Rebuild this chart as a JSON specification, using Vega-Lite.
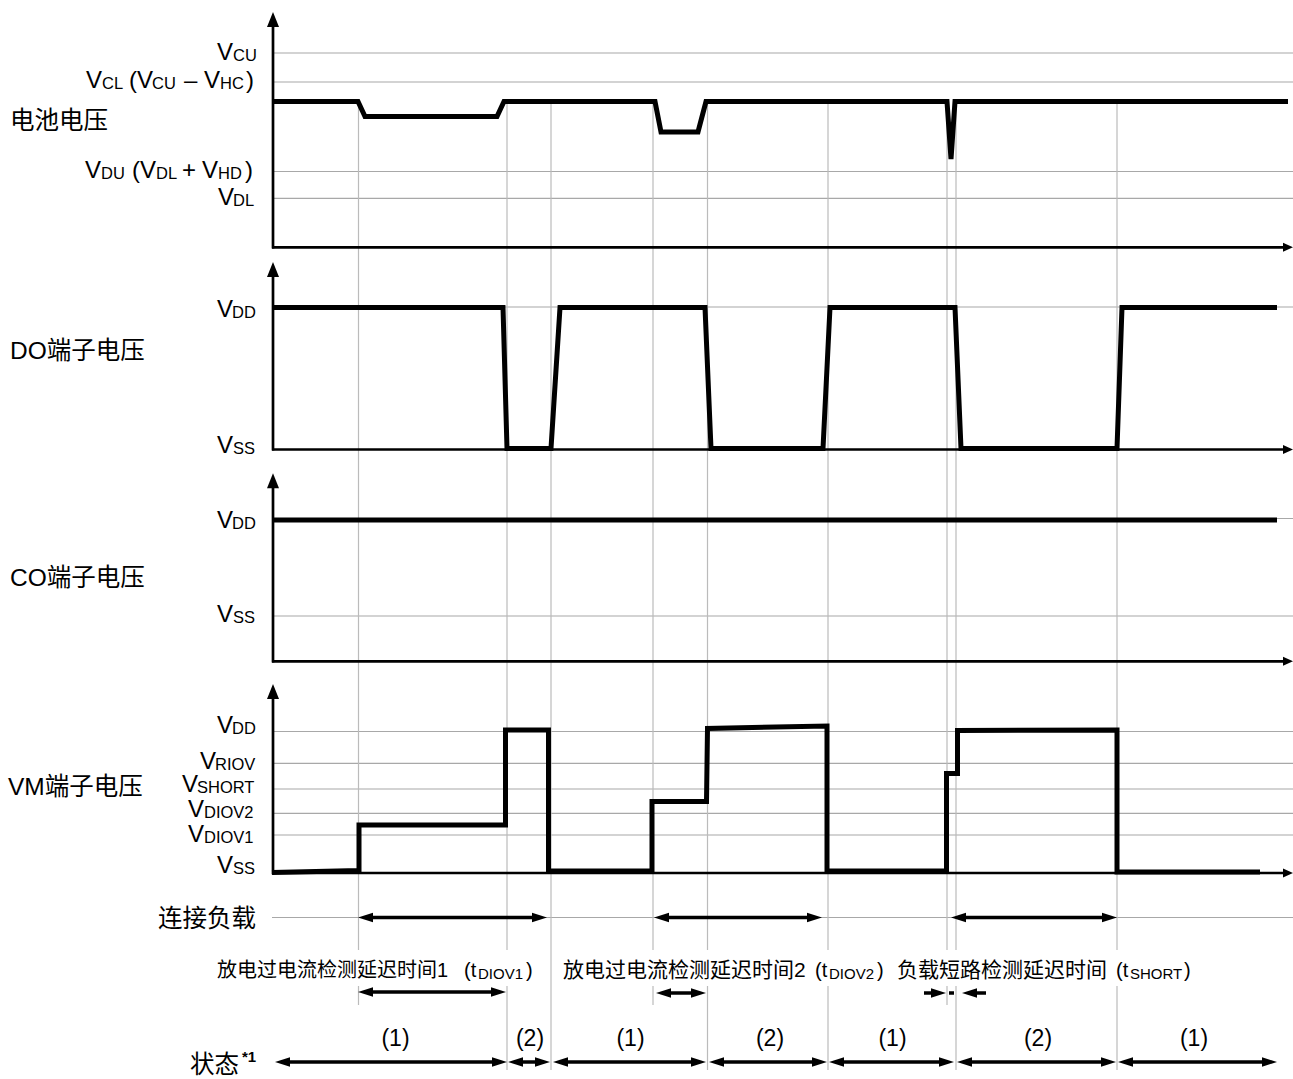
{
  "$schema": "https://vega.github.io/schema/vega-lite/v6.json",
  "width": 1293,
  "height": 1079,
  "autosize": {"type": "none"},
  "padding": 0,
  "background": "white",
  "config": {"view": {"stroke": null}},
  "datasets": {
    "segments": [
      {"k": "g", "x": 272, "y": 53, "x2": 1293, "y2": 53},
      {"k": "g", "x": 272, "y": 82, "x2": 1293, "y2": 82},
      {"k": "g", "x": 272, "y": 171.5, "x2": 1293, "y2": 171.5},
      {"k": "g", "x": 272, "y": 198.3, "x2": 1293, "y2": 198.3},
      {"k": "g", "x": 272, "y": 307, "x2": 1293, "y2": 307},
      {"k": "g", "x": 272, "y": 518.5, "x2": 1293, "y2": 518.5},
      {"k": "g", "x": 272, "y": 616, "x2": 1293, "y2": 616},
      {"k": "g", "x": 272, "y": 731.5, "x2": 1293, "y2": 731.5},
      {"k": "g", "x": 272, "y": 763.3, "x2": 1293, "y2": 763.3},
      {"k": "g", "x": 272, "y": 789, "x2": 1293, "y2": 789},
      {"k": "g", "x": 272, "y": 813.3, "x2": 1293, "y2": 813.3},
      {"k": "g", "x": 272, "y": 835, "x2": 1293, "y2": 835},
      {"k": "g", "x": 272, "y": 917.5, "x2": 1293, "y2": 917.5},
      {"k": "v", "x": 358.5, "y": 100, "x2": 358.5, "y2": 950},
      {"k": "v", "x": 358.5, "y": 986, "x2": 358.5, "y2": 1005},
      {"k": "v", "x": 507, "y": 100, "x2": 507, "y2": 950},
      {"k": "v", "x": 507, "y": 986, "x2": 507, "y2": 1070},
      {"k": "v", "x": 551, "y": 100, "x2": 551, "y2": 1070},
      {"k": "v", "x": 653, "y": 100, "x2": 653, "y2": 950},
      {"k": "v", "x": 653, "y": 986, "x2": 653, "y2": 1005},
      {"k": "v", "x": 707.5, "y": 100, "x2": 707.5, "y2": 950},
      {"k": "v", "x": 707.5, "y": 986, "x2": 707.5, "y2": 1070},
      {"k": "v", "x": 828, "y": 100, "x2": 828, "y2": 950},
      {"k": "v", "x": 828, "y": 986, "x2": 828, "y2": 1070},
      {"k": "v", "x": 947, "y": 100, "x2": 947, "y2": 950},
      {"k": "v", "x": 947, "y": 986, "x2": 947, "y2": 1005},
      {"k": "v", "x": 956, "y": 100, "x2": 956, "y2": 950},
      {"k": "v", "x": 956, "y": 986, "x2": 956, "y2": 1070},
      {"k": "v", "x": 1117, "y": 100, "x2": 1117, "y2": 950},
      {"k": "v", "x": 1117, "y": 986, "x2": 1117, "y2": 1070},
      {"k": "a", "x": 273, "y": 248.5, "x2": 273, "y2": 22},
      {"k": "a", "x": 272, "y": 247.3, "x2": 1286, "y2": 247.3},
      {"k": "a", "x": 273, "y": 450.5, "x2": 273, "y2": 272},
      {"k": "a", "x": 272, "y": 449.5, "x2": 1286, "y2": 449.5},
      {"k": "a", "x": 273, "y": 662.5, "x2": 273, "y2": 483},
      {"k": "a", "x": 272, "y": 661.3, "x2": 1286, "y2": 661.3},
      {"k": "a", "x": 273, "y": 874.3, "x2": 273, "y2": 694},
      {"k": "a", "x": 272, "y": 873, "x2": 1286, "y2": 873},
      {"k": "s", "x": 366, "y": 917.5, "x2": 539, "y2": 917.5},
      {"k": "s", "x": 662, "y": 917.5, "x2": 814, "y2": 917.5},
      {"k": "s", "x": 959, "y": 917.5, "x2": 1109, "y2": 917.5},
      {"k": "s", "x": 366, "y": 992, "x2": 498, "y2": 992},
      {"k": "s", "x": 664, "y": 993, "x2": 698, "y2": 993},
      {"k": "s", "x": 924, "y": 993, "x2": 938, "y2": 993},
      {"k": "s", "x": 949, "y": 993, "x2": 954, "y2": 993},
      {"k": "s", "x": 970, "y": 993, "x2": 986, "y2": 993},
      {"k": "s", "x": 283, "y": 1062, "x2": 499, "y2": 1062},
      {"k": "s", "x": 516, "y": 1062, "x2": 542, "y2": 1062},
      {"k": "s", "x": 561, "y": 1062, "x2": 698, "y2": 1062},
      {"k": "s", "x": 717, "y": 1062, "x2": 819, "y2": 1062},
      {"k": "s", "x": 837, "y": 1062, "x2": 946, "y2": 1062},
      {"k": "s", "x": 965, "y": 1062, "x2": 1108, "y2": 1062},
      {"k": "s", "x": 1126, "y": 1062, "x2": 1269, "y2": 1062}
    ],
    "traces": [
      {"s": "bat", "i": 1, "x": 272, "y": 101.5},
      {"s": "bat", "i": 2, "x": 358, "y": 101.5},
      {"s": "bat", "i": 3, "x": 365, "y": 116.5},
      {"s": "bat", "i": 4, "x": 497, "y": 116.5},
      {"s": "bat", "i": 5, "x": 504, "y": 101.5},
      {"s": "bat", "i": 6, "x": 655, "y": 101.5},
      {"s": "bat", "i": 7, "x": 661, "y": 132},
      {"s": "bat", "i": 8, "x": 698, "y": 132},
      {"s": "bat", "i": 9, "x": 706, "y": 101.5},
      {"s": "bat", "i": 10, "x": 947, "y": 101.5},
      {"s": "bat", "i": 11, "x": 951, "y": 159},
      {"s": "bat", "i": 12, "x": 955, "y": 101.5},
      {"s": "bat", "i": 13, "x": 1288, "y": 101.5},
      {"s": "do", "i": 1, "x": 272, "y": 307.5},
      {"s": "do", "i": 2, "x": 503, "y": 307.5},
      {"s": "do", "i": 3, "x": 507, "y": 448.5},
      {"s": "do", "i": 4, "x": 551, "y": 448.5},
      {"s": "do", "i": 5, "x": 560, "y": 307.5},
      {"s": "do", "i": 6, "x": 705, "y": 307.5},
      {"s": "do", "i": 7, "x": 711, "y": 448.5},
      {"s": "do", "i": 8, "x": 823, "y": 448.5},
      {"s": "do", "i": 9, "x": 830, "y": 307.5},
      {"s": "do", "i": 10, "x": 955, "y": 307.5},
      {"s": "do", "i": 11, "x": 961, "y": 448.5},
      {"s": "do", "i": 12, "x": 1117, "y": 448.5},
      {"s": "do", "i": 13, "x": 1122, "y": 307.5},
      {"s": "do", "i": 14, "x": 1277, "y": 307.5},
      {"s": "co", "i": 1, "x": 272, "y": 520},
      {"s": "co", "i": 2, "x": 1277, "y": 520},
      {"s": "vm", "i": 1, "x": 272, "y": 872.5},
      {"s": "vm", "i": 2, "x": 359, "y": 870.5},
      {"s": "vm", "i": 3, "x": 359, "y": 825},
      {"s": "vm", "i": 4, "x": 505.5, "y": 825},
      {"s": "vm", "i": 5, "x": 505.5, "y": 730},
      {"s": "vm", "i": 6, "x": 548.5, "y": 730},
      {"s": "vm", "i": 7, "x": 548.5, "y": 871},
      {"s": "vm", "i": 8, "x": 652, "y": 871},
      {"s": "vm", "i": 9, "x": 652, "y": 801.5},
      {"s": "vm", "i": 10, "x": 706.5, "y": 801.5},
      {"s": "vm", "i": 11, "x": 707.5, "y": 728.5},
      {"s": "vm", "i": 12, "x": 827, "y": 726},
      {"s": "vm", "i": 13, "x": 827, "y": 871},
      {"s": "vm", "i": 14, "x": 946.5, "y": 871},
      {"s": "vm", "i": 15, "x": 946.5, "y": 773.5},
      {"s": "vm", "i": 16, "x": 957.5, "y": 773.5},
      {"s": "vm", "i": 17, "x": 957.5, "y": 730.5},
      {"s": "vm", "i": 18, "x": 1117, "y": 730},
      {"s": "vm", "i": 19, "x": 1117, "y": 872},
      {"s": "vm", "i": 20, "x": 1260, "y": 872}
    ],
    "heads": [
      {"d": "L", "x": 358, "y": 917.5},
      {"d": "L", "x": 654, "y": 917.5},
      {"d": "L", "x": 951, "y": 917.5},
      {"d": "L", "x": 358, "y": 992},
      {"d": "L", "x": 656, "y": 993},
      {"d": "L", "x": 962, "y": 993},
      {"d": "L", "x": 275, "y": 1062},
      {"d": "L", "x": 508, "y": 1062},
      {"d": "L", "x": 553, "y": 1062},
      {"d": "L", "x": 709, "y": 1062},
      {"d": "L", "x": 829, "y": 1062},
      {"d": "L", "x": 957, "y": 1062},
      {"d": "L", "x": 1118, "y": 1062},
      {"d": "R", "x": 547, "y": 917.5},
      {"d": "R", "x": 822, "y": 917.5},
      {"d": "R", "x": 1117, "y": 917.5},
      {"d": "R", "x": 506, "y": 992},
      {"d": "R", "x": 706, "y": 993},
      {"d": "R", "x": 946, "y": 993},
      {"d": "R", "x": 507, "y": 1062},
      {"d": "R", "x": 550, "y": 1062},
      {"d": "R", "x": 706, "y": 1062},
      {"d": "R", "x": 827, "y": 1062},
      {"d": "R", "x": 954, "y": 1062},
      {"d": "R", "x": 1116, "y": 1062},
      {"d": "R", "x": 1277, "y": 1062},
      {"d": "U", "x": 273, "y": 12},
      {"d": "U", "x": 273, "y": 262},
      {"d": "U", "x": 273, "y": 473.3},
      {"d": "U", "x": 273, "y": 684},
      {"d": "A", "x": 1293, "y": 247.3},
      {"d": "A", "x": 1293, "y": 449.5},
      {"d": "A", "x": 1293, "y": 661.3},
      {"d": "A", "x": 1293, "y": 873}
    ],
    "labels": [
      {"k": "m", "text": "V", "x": 217, "y": 60},
      {"k": "s", "text": "CU", "x": 233, "y": 61},
      {"k": "m", "text": "V", "x": 86, "y": 88},
      {"k": "s", "text": "CL", "x": 102, "y": 89},
      {"k": "m", "text": "(V", "x": 129, "y": 88},
      {"k": "s", "text": "CU", "x": 152, "y": 89},
      {"k": "m", "text": "–", "x": 184, "y": 88},
      {"k": "m", "text": "V", "x": 204, "y": 88},
      {"k": "s", "text": "HC", "x": 220, "y": 89},
      {"k": "m", "text": ")", "x": 246, "y": 88},
      {"k": "m", "text": "V", "x": 85, "y": 178},
      {"k": "s", "text": "DU", "x": 101, "y": 179},
      {"k": "m", "text": "(V", "x": 132, "y": 178},
      {"k": "s", "text": "DL", "x": 156, "y": 179},
      {"k": "m", "text": "+", "x": 182, "y": 178},
      {"k": "m", "text": "V", "x": 202, "y": 178},
      {"k": "s", "text": "HD", "x": 218, "y": 179},
      {"k": "m", "text": ")", "x": 245, "y": 178},
      {"k": "m", "text": "V", "x": 218, "y": 205},
      {"k": "s", "text": "DL", "x": 233, "y": 206},
      {"k": "m", "text": "V", "x": 217, "y": 317},
      {"k": "s", "text": "DD", "x": 232, "y": 318},
      {"k": "m", "text": "V", "x": 217, "y": 453},
      {"k": "s", "text": "SS", "x": 233, "y": 454},
      {"k": "m", "text": "V", "x": 217, "y": 528},
      {"k": "s", "text": "DD", "x": 232, "y": 529},
      {"k": "m", "text": "V", "x": 217, "y": 622},
      {"k": "s", "text": "SS", "x": 233, "y": 623},
      {"k": "m", "text": "V", "x": 217, "y": 733},
      {"k": "s", "text": "DD", "x": 232, "y": 734},
      {"k": "m", "text": "V", "x": 200, "y": 769},
      {"k": "s", "text": "RIOV", "x": 215, "y": 770},
      {"k": "m", "text": "V", "x": 182, "y": 792},
      {"k": "s", "text": "SHORT", "x": 197, "y": 793},
      {"k": "m", "text": "V", "x": 188, "y": 817},
      {"k": "s", "text": "DIOV2", "x": 204, "y": 818},
      {"k": "m", "text": "V", "x": 188, "y": 842},
      {"k": "s", "text": "DIOV1", "x": 204, "y": 843},
      {"k": "m", "text": "V", "x": 217, "y": 873},
      {"k": "s", "text": "SS", "x": 233, "y": 874},
      {"k": "side", "text": "电池电压", "x": 10, "y": 129},
      {"k": "side", "text": "DO端子电压", "x": 10, "y": 359},
      {"k": "side", "text": "CO端子电压", "x": 10, "y": 586},
      {"k": "side", "text": "VM端子电压", "x": 8, "y": 795},
      {"k": "side", "text": "状态", "x": 190, "y": 1073},
      {"k": "rl", "text": "连接负载", "x": 256, "y": 927},
      {"k": "star", "text": "*1", "x": 242, "y": 1062},
      {"k": "b", "text": "放电过电流检测延迟时间1", "x": 217, "y": 977},
      {"k": "b", "text": "(t", "x": 464, "y": 977},
      {"k": "bs", "text": "DIOV1", "x": 478, "y": 979},
      {"k": "b", "text": ")", "x": 526, "y": 977},
      {"k": "b2", "text": "放电过电流检测延迟时间2", "x": 563, "y": 977},
      {"k": "b", "text": "(t", "x": 815, "y": 977},
      {"k": "bs", "text": "DIOV2", "x": 829, "y": 979},
      {"k": "b", "text": ")", "x": 877, "y": 977},
      {"k": "b2", "text": "负载短路检测延迟时间", "x": 897, "y": 977},
      {"k": "b", "text": "(t", "x": 1116, "y": 977},
      {"k": "bs", "text": "SHORT", "x": 1130, "y": 979},
      {"k": "b", "text": ")", "x": 1184, "y": 977},
      {"k": "st", "text": "(1)", "x": 395.5, "y": 1046},
      {"k": "st", "text": "(2)", "x": 530, "y": 1046},
      {"k": "st", "text": "(1)", "x": 630.5, "y": 1046},
      {"k": "st", "text": "(2)", "x": 770, "y": 1046},
      {"k": "st", "text": "(1)", "x": 892.5, "y": 1046},
      {"k": "st", "text": "(2)", "x": 1038, "y": 1046},
      {"k": "st", "text": "(1)", "x": 1194, "y": 1046}
    ]
  },
  "encoding": {
    "x": {"field": "x", "type": "quantitative", "scale": {"domain": [0, 1293], "nice": false, "zero": false}, "axis": null},
    "y": {"field": "y", "type": "quantitative", "scale": {"domain": [0, 1079], "reverse": true, "nice": false, "zero": false}, "axis": null}
  },
  "layer": [
    {
      "data": {"name": "segments"},
      "transform": [{"filter": {"field": "k", "equal": "g"}}],
      "mark": {"type": "rule", "color": "#a8a8a8", "strokeWidth": 1.2},
      "encoding": {"x2": {"field": "x2"}, "y2": {"field": "y2"}}
    },
    {
      "data": {"name": "segments"},
      "transform": [{"filter": {"field": "k", "equal": "v"}}],
      "mark": {"type": "rule", "color": "#bbbbbb", "strokeWidth": 1.2},
      "encoding": {"x2": {"field": "x2"}, "y2": {"field": "y2"}}
    },
    {
      "data": {"name": "segments"},
      "transform": [{"filter": {"field": "k", "equal": "a"}}],
      "mark": {"type": "rule", "color": "black", "strokeWidth": 2.7},
      "encoding": {"x2": {"field": "x2"}, "y2": {"field": "y2"}}
    },
    {
      "data": {"name": "traces"},
      "mark": {"type": "line", "color": "black", "strokeWidth": 5, "strokeJoin": "miter"},
      "encoding": {"detail": {"field": "s", "type": "nominal"}, "order": {"field": "i", "type": "quantitative"}}
    },
    {
      "data": {"name": "segments"},
      "transform": [{"filter": {"field": "k", "equal": "s"}}],
      "mark": {"type": "rule", "color": "black", "strokeWidth": 3.5},
      "encoding": {"x2": {"field": "x2"}, "y2": {"field": "y2"}}
    },
    {
      "data": {"name": "heads"},
      "transform": [{"filter": {"field": "d", "equal": "L"}}],
      "mark": {"type": "point", "shape": "M0,0L2,-0.62L2,0.62Z", "size": 225, "filled": true, "color": "black", "opacity": 1, "strokeWidth": 0}
    },
    {
      "data": {"name": "heads"},
      "transform": [{"filter": {"field": "d", "equal": "R"}}],
      "mark": {"type": "point", "shape": "M0,0L-2,-0.62L-2,0.62Z", "size": 225, "filled": true, "color": "black", "opacity": 1, "strokeWidth": 0}
    },
    {
      "data": {"name": "heads"},
      "transform": [{"filter": {"field": "d", "equal": "U"}}],
      "mark": {"type": "point", "shape": "M0,0L-0.8,2L0.8,2Z", "size": 225, "filled": true, "color": "black", "opacity": 1, "strokeWidth": 0}
    },
    {
      "data": {"name": "heads"},
      "transform": [{"filter": {"field": "d", "equal": "A"}}],
      "mark": {"type": "point", "shape": "M0,0L-2,-0.9L-2,0.9Z", "size": 100, "filled": true, "color": "black", "opacity": 1, "strokeWidth": 0}
    },
    {
      "data": {"name": "labels"},
      "transform": [{"filter": {"field": "k", "equal": "m"}}],
      "mark": {"type": "text", "font": "Liberation Sans", "fontSize": 24, "align": "left", "baseline": "alphabetic", "color": "black"},
      "encoding": {"text": {"field": "text"}}
    },
    {
      "data": {"name": "labels"},
      "transform": [{"filter": {"field": "k", "equal": "s"}}],
      "mark": {"type": "text", "font": "Liberation Sans", "fontSize": 16.5, "align": "left", "baseline": "alphabetic", "color": "black"},
      "encoding": {"text": {"field": "text"}}
    },
    {
      "data": {"name": "labels"},
      "transform": [{"filter": {"field": "k", "equal": "side"}}],
      "mark": {"type": "text", "font": "Liberation Sans, Noto Sans CJK SC", "fontSize": 24.5, "align": "left", "baseline": "alphabetic", "color": "black"},
      "encoding": {"text": {"field": "text"}}
    },
    {
      "data": {"name": "labels"},
      "transform": [{"filter": {"field": "k", "equal": "rl"}}],
      "mark": {"type": "text", "font": "Liberation Sans, Noto Sans CJK SC", "fontSize": 24.5, "align": "right", "baseline": "alphabetic", "color": "black"},
      "encoding": {"text": {"field": "text"}}
    },
    {
      "data": {"name": "labels"},
      "transform": [{"filter": {"field": "k", "equal": "star"}}],
      "mark": {"type": "text", "font": "Liberation Sans", "fontSize": 15, "fontWeight": "bold", "align": "left", "baseline": "alphabetic", "color": "black"},
      "encoding": {"text": {"field": "text"}}
    },
    {
      "data": {"name": "labels"},
      "transform": [{"filter": {"field": "k", "equal": "b"}}],
      "mark": {"type": "text", "font": "Liberation Sans, Noto Sans CJK SC", "fontSize": 20, "align": "left", "baseline": "alphabetic", "color": "black"},
      "encoding": {"text": {"field": "text"}}
    },
    {
      "data": {"name": "labels"},
      "transform": [{"filter": {"field": "k", "equal": "b2"}}],
      "mark": {"type": "text", "font": "Liberation Sans, Noto Sans CJK SC", "fontSize": 21, "align": "left", "baseline": "alphabetic", "color": "black"},
      "encoding": {"text": {"field": "text"}}
    },
    {
      "data": {"name": "labels"},
      "transform": [{"filter": {"field": "k", "equal": "bs"}}],
      "mark": {"type": "text", "font": "Liberation Sans", "fontSize": 15, "align": "left", "baseline": "alphabetic", "color": "black"},
      "encoding": {"text": {"field": "text"}}
    },
    {
      "data": {"name": "labels"},
      "transform": [{"filter": {"field": "k", "equal": "st"}}],
      "mark": {"type": "text", "font": "Liberation Sans", "fontSize": 23, "align": "center", "baseline": "alphabetic", "color": "black"},
      "encoding": {"text": {"field": "text"}}
    }
  ]
}
